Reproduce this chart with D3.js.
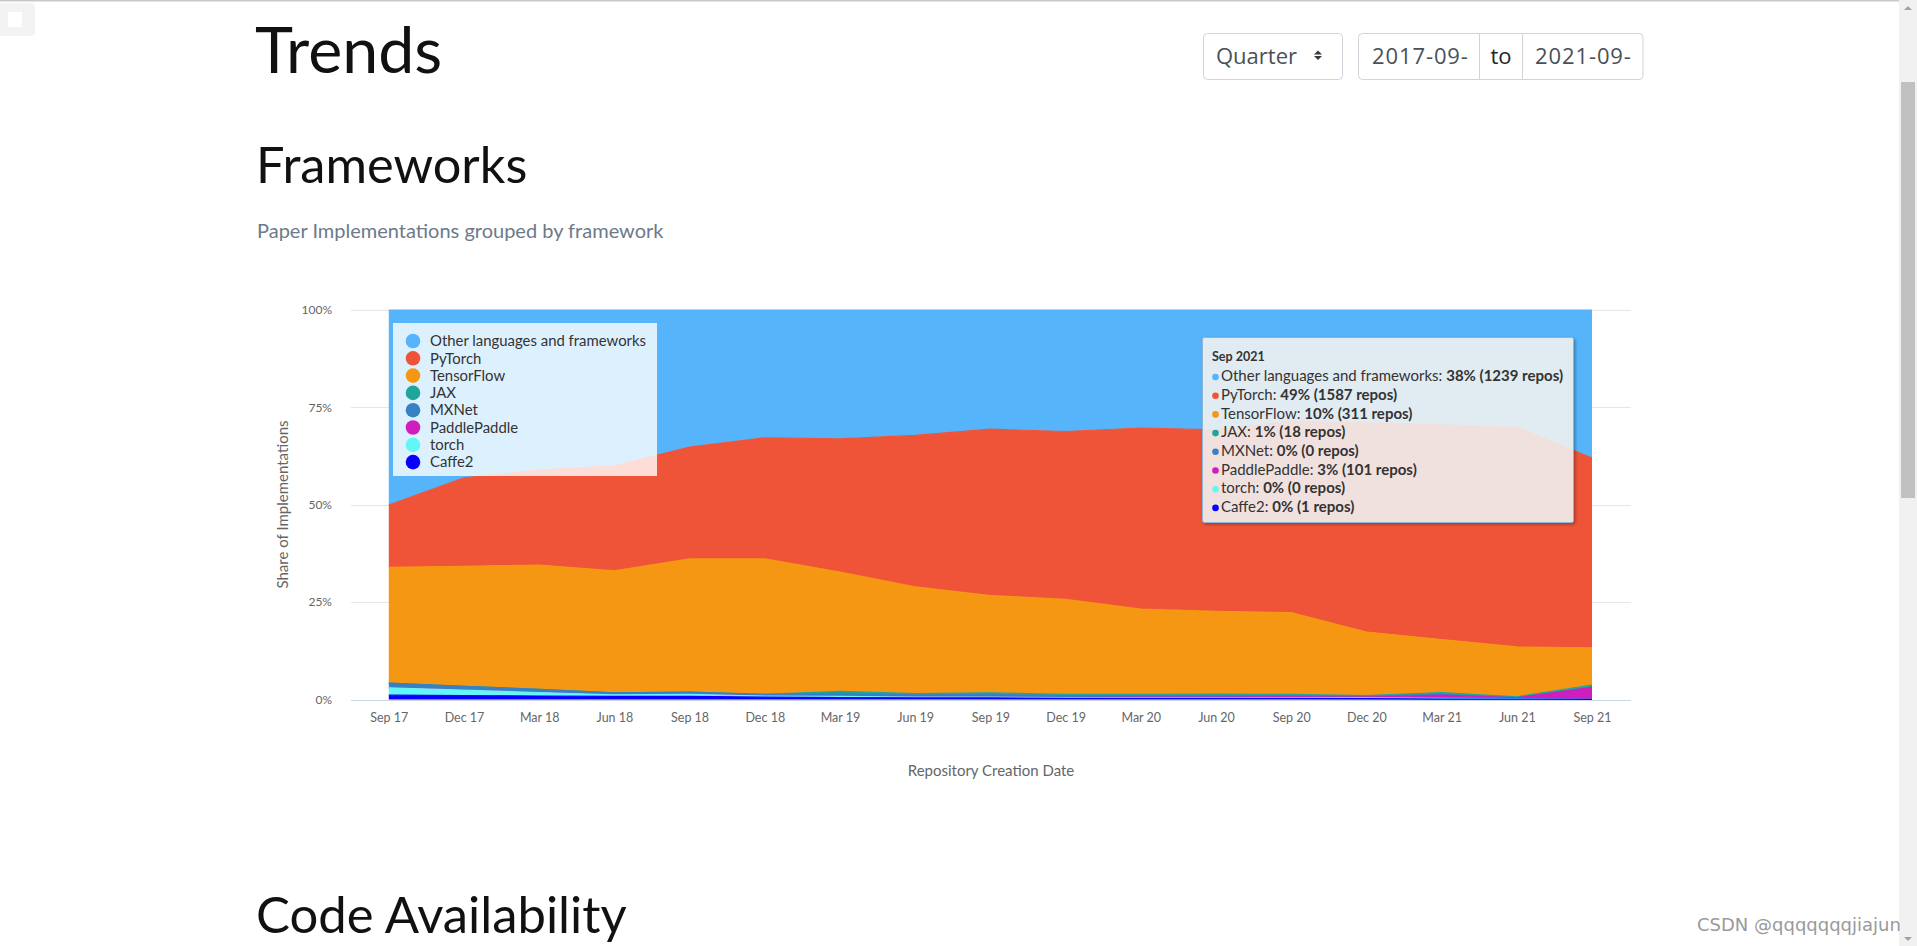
<!DOCTYPE html>
<html>
<head>
<meta charset="utf-8">
<script src="https://cdn.jsdelivr.net/npm/d3@7"></script>
<style>
html,body{margin:0;padding:0;background:#fff;overflow:hidden;}
svg{display:block;font-family:Lato,"Open Sans",sans-serif;}
</style>
</head>
<body>
<svg id="page" width="1917" height="946"></svg>
<script>
// ---------------- data ----------------
const quarters = ["Sep 17","Dec 17","Mar 18","Jun 18","Sep 18","Dec 18","Mar 19","Jun 19","Sep 19","Dec 19","Mar 20","Jun 20","Sep 20","Dec 20","Mar 21","Jun 21","Sep 21"];
// share of implementations, percent
const otherShare   = [50.1,43.1,41.1,40.0,35.2,32.8,33.1,32.2,30.6,31.2,30.3,30.8,28.5,29.0,29.5,30.1,38.0];
const pytorchShare = [16.0,22.7,24.4,27.0,28.7,31.1,34.2,38.9,42.7,43.1,46.5,46.6,49.2,53.7,55.1,56.4,48.7];
const tfShare      = [29.7,30.8,31.9,31.3,34.2,34.8,30.6,27.4,25.0,24.4,21.9,21.2,21.0,16.3,13.6,12.8,9.55];
const jaxShare     = [0,0,0,0,0,0,0.5,0.3,0.4,0.3,0.3,0.4,0.3,0.2,0.5,0.2,0.55];
const mxnetShare   = [1.2,1.0,0.8,0.5,0.6,0.4,0.8,0.6,0.7,0.5,0.4,0.4,0.3,0.2,0.2,0.1,0];
const paddleShare  = [0,0,0,0,0,0,0,0,0,0,0.1,0.1,0.2,0.2,0.8,0.2,3.1];
const torchShare   = [1.9,1.4,0.9,0.4,0.5,0.3,0.3,0.2,0.2,0.2,0.2,0.2,0.2,0.2,0.2,0.1,0];
const caffe2Share  = [1.1,1.0,0.9,0.8,0.8,0.6,0.5,0.4,0.4,0.3,0.3,0.3,0.3,0.2,0.1,0.1,0.03];

const seriesNames  = ["Other languages and frameworks","PyTorch","TensorFlow","JAX","MXNet","PaddlePaddle","torch","Caffe2"];
const seriesColors = ["#56b4fa","#ef5438","#f59712","#1fa59a","#3680c4","#d01dbd","#62f6f4","#0a00ff"];
const seriesShares = [otherShare,pytorchShare,tfShare,jaxShare,mxnetShare,paddleShare,torchShare,caffe2Share];
// tooltip for the last quarter
const tooltipTitle = "Sep 2021";
const lastRepos = [1239,1587,311,18,0,101,0,1];
const yTicks = [0,0.25,0.5,0.75,1];

// ---------------- page ----------------
const svg = d3.select("#page");
svg.append("rect").attr("x",0).attr("y",0).attr("width",1917).attr("height",1.5).attr("fill","#c9c9c9");
svg.append("rect").attr("x",-4).attr("y",3).attr("width",39).attr("height",33).attr("rx",4).attr("fill","#f3f3f3");
svg.append("rect").attr("x",8).attr("y",12).attr("width",14).attr("height",15).attr("fill","#fff");

svg.append("text").attr("x",255).attr("y",73).attr("font-size",64.5).attr("fill","#111").text("Trends");
svg.append("text").attr("x",256).attr("y",183).attr("font-size",50.5).attr("fill","#111").text("Frameworks");
svg.append("text").attr("x",257).attr("y",238).attr("font-size",20).attr("fill","#6c7a89").text("Paper Implementations grouped by framework");
svg.append("text").attr("x",256).attr("y",933).attr("font-size",50.8).attr("fill","#111").text("Code Availability");

// controls
const ctl = svg.append("g").attr("font-family","'Open Sans',sans-serif").attr("font-size",22).attr("fill","#495057");
ctl.append("rect").attr("x",1203.5).attr("y",33.5).attr("width",139).attr("height",46).attr("rx",4).attr("fill","#fff").attr("stroke","#ced4da");
ctl.append("text").attr("x",1216).attr("y",64).text("Quarter");
ctl.append("path").attr("d","M1314,54.5 L1318,50.5 L1322,54.5 Z M1314,56 L1318,60 L1322,56 Z").attr("fill","#343a40");
ctl.append("rect").attr("x",1358.5).attr("y",33.5).attr("width",284.5).attr("height",46).attr("rx",4).attr("fill","#fff").attr("stroke","#ced4da");
ctl.append("line").attr("x1",1479.5).attr("x2",1479.5).attr("y1",34).attr("y2",79).attr("stroke","#ced4da");
ctl.append("line").attr("x1",1522.5).attr("x2",1522.5).attr("y1",34).attr("y2",79).attr("stroke","#ced4da");
ctl.append("text").attr("x",1372).attr("y",64).attr("letter-spacing",0.9).text("2017-09-");
ctl.append("text").attr("x",1501).attr("y",64).attr("text-anchor","middle").attr("fill","#212529").text("to");
ctl.append("text").attr("x",1535).attr("y",64).attr("letter-spacing",0.9).text("2021-09-");

// scrollbar + watermark
svg.append("rect").attr("x",1899).attr("y",0).attr("width",18).attr("height",946).attr("fill","#f1f1f1");
svg.append("rect").attr("x",1901).attr("y",82).attr("width",14).attr("height",416).attr("fill","#c1c1c1");
svg.append("path").attr("d","M1904,10 L1908,6 L1912,10 Z M1904,937 L1908,941 L1912,937 Z").attr("fill","#a3a3a3");
svg.append("text").attr("x",1697).attr("y",931).attr("font-family","'DejaVu Sans',sans-serif").attr("font-size",18).attr("fill","#9a9a9a").text("CSDN @qqqqqqqjiajun");

// ---------------- chart ----------------
const plotL = 351, plotR = 1631;
const x = d3.scalePoint().domain(quarters).range([388.8, 1592]);
const y = d3.scaleLinear().domain([0,1]).range([699.5, 310]);

const chart = svg.append("g");
// grid
chart.selectAll("line.grid").data(yTicks).join("line")
  .attr("x1",plotL).attr("x2",plotR)
  .attr("y1",d=>Math.round(y(d))+0.5).attr("y2",d=>Math.round(y(d))+0.5)
  .attr("stroke",d=>d===0?"#ccd6eb":"#e6e6e6");

// stack
const rows = quarters.map((q,i)=>{
  const r = {q};
  seriesNames.forEach((n,k)=>{ r[n] = seriesShares[k][i]; });
  return r;
});
const keysBottomUp = seriesNames.slice().reverse();
const stacked = d3.stack().keys(keysBottomUp).offset(d3.stackOffsetExpand)(rows);
const byName = {};
stacked.forEach(s=>{ byName[s.key]=s; });

const area = d3.area().x(d=>x(d.data.q)).y0(d=>y(d[0])).y1(d=>y(d[1]));
const line = d3.line().x(d=>x(d.data.q)).y(d=>y(d[1]));

seriesNames.forEach((n,k)=>{
  const s = byName[n];
  chart.append("path").datum(s).attr("d",area).attr("fill",seriesColors[k]);
  chart.append("path").datum(s).attr("d",line).attr("fill","none").attr("stroke",seriesColors[k]).attr("stroke-width",1.2);
});

// axes
const xAxis = chart.append("g").attr("transform","translate(0,699.5)")
  .call(d3.axisBottom(x).tickSize(0).tickPadding(14));
xAxis.select(".domain").remove();
xAxis.selectAll("text").attr("font-family","Lato,sans-serif").attr("font-size",12.5).attr("fill","#666");

const yAxis = chart.append("g").attr("transform",`translate(${plotL},0)`)
  .call(d3.axisLeft(y).tickValues(yTicks).tickSize(0).tickPadding(19).tickFormat(d=>Math.round(d*100)+"%"));
yAxis.select(".domain").remove();
yAxis.selectAll("text").attr("font-family","Lato,sans-serif").attr("font-size",12).attr("fill","#666");

chart.append("text").attr("transform","translate(288,504.5) rotate(-90)").attr("text-anchor","middle")
  .attr("font-size",15).attr("fill","#666").text("Share of Implementations");
chart.append("text").attr("x",991).attr("y",776).attr("text-anchor","middle")
  .attr("font-size",15).attr("fill","#666").text("Repository Creation Date");

// legend
const lg = chart.append("g");
lg.append("rect").attr("x",393).attr("y",323).attr("width",264).attr("height",153).attr("fill","rgba(255,255,255,0.8)");
seriesNames.forEach((n,k)=>{
  const cy = 341 + k*17.3;
  lg.append("circle").attr("cx",413).attr("cy",cy).attr("r",7.3).attr("fill",seriesColors[k]);
  lg.append("text").attr("x",430).attr("y",cy).attr("dy","0.35em").attr("font-size",14.9).attr("fill","#333").text(n);
});

// tooltip
const total = d3.sum(lastRepos);
const tt = chart.append("g");
const defs = svg.append("defs");
const f = defs.append("filter").attr("id","sh").attr("x","-10%").attr("y","-10%").attr("width","130%").attr("height","130%");
f.append("feDropShadow").attr("dx",1.5).attr("dy",1.5).attr("stdDeviation",1.5).attr("flood-color","#000").attr("flood-opacity",0.35);
tt.append("rect").attr("x",1202.5).attr("y",337.5).attr("width",371).attr("height",185).attr("rx",2)
  .attr("fill","rgba(247,247,247,0.85)").attr("stroke","#8fb5d6").attr("filter","url(#sh)");
tt.append("text").attr("x",1212).attr("y",357).attr("dy","0.35em").attr("font-size",12.5).attr("font-weight","bold").attr("fill","#333").text(tooltipTitle);
seriesNames.forEach((n,k)=>{
  const cy = 376 + k*18.7;
  tt.append("circle").attr("cx",1215.5).attr("cy",cy+1).attr("r",3.3).attr("fill",seriesColors[k]);
  const t = tt.append("text").attr("x",1221).attr("y",cy).attr("dy","0.35em").attr("font-size",15).attr("fill","#333");
  t.append("tspan").text(n+": ");
  t.append("tspan").attr("font-weight","bold").text(Math.round(lastRepos[k]/total*100)+"% ("+lastRepos[k]+" repos)");
});
</script>
</body>
</html>
